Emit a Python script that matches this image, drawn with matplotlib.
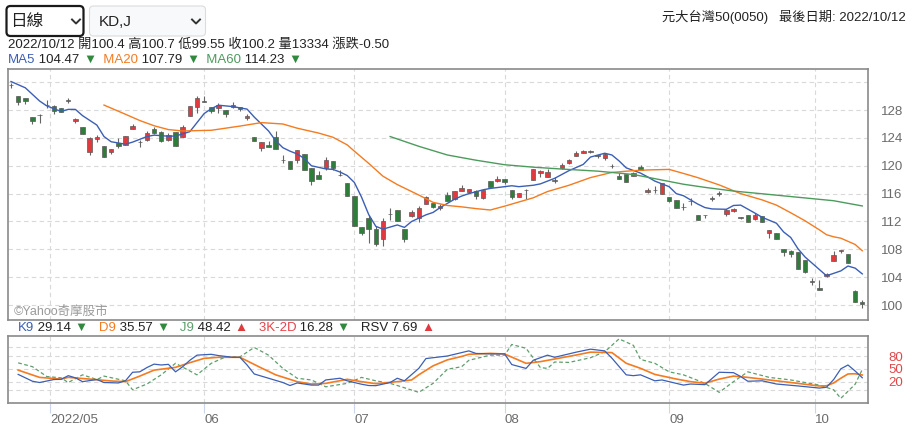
import matplotlib
matplotlib.use("Agg")
import matplotlib.pyplot as plt
import numpy as np
from matplotlib.patches import FancyBboxPatch
from matplotlib.lines import Line2D
from matplotlib.transforms import IdentityTransform

plt.rcParams["font.family"] = ["Liberation Sans", "Noto Sans CJK TC", "DejaVu Sans"]

# ---- daily candles, 2022/04/22 .. 2022/10/12 (trading-day index) ----
opens = [131.6, 130.0, 129.7, 127.0, 127.3, 128.7, 128.6, 128.35, 129.35, 126.4,
         125.55, 122.0, 123.8, 122.9, 122.05, 123.3, 123.0, 125.25, 123.35, 123.65,
         125.25, 124.9, 123.65, 124.9, 124.15, 127.2, 128.4, 129.2, 128.4, 128.3,
         128.0, 128.4, 128.4, 126.9, 124.1, 122.5, 122.95, 124.1, 120.85, 120.75,
         120.85, 121.7, 119.75, 118.65, 119.7, 120.7, 118.65, 117.55, 115.65, 111.15,
         112.45, 110.9, 109.5, 113.05, 113.65, 110.9, 112.8, 112.45, 114.45, 114.65,
         113.9, 115.75, 115.3, 116.4, 116.25, 116.4, 115.4, 117.75, 117.85, 118.05,
         116.5, 115.55, 116.45, 117.9, 118.9, 118.35, 117.85, 119.7, 120.45, 121.35,
         121.9, 122.05, 121.45, 121.15, 119.95, 118.55, 118.8, 118.5, 119.85, 116.2,
         116.5, 115.9, 115.45, 115.05, 114.05, 114.9, 113.0, 112.95, 115.3, 116.0,
         113.05, 113.45, 112.55, 112.9, 112.4, 112.75, 110.3, 110.3, 108.0, 107.8,
         107.55, 106.45, 103.35, 102.4, 104.15, 106.35, 107.75, 107.3, 102.0, 100.4]
highs = [131.9, 130.0, 129.75, 127.0, 127.4, 129.45, 128.7, 128.35, 129.8, 126.9,
         125.55, 124.2, 124.4, 122.9, 122.35, 123.95, 124.3, 125.95, 123.7, 125.0,
         125.5, 124.95, 124.65, 124.9, 125.85, 128.6, 130.0, 130.0, 128.4, 128.95,
         128.0, 129.1, 128.5, 127.45, 124.15, 123.4, 123.5, 125.05, 121.55, 120.75,
         122.2, 121.7, 119.75, 119.25, 121.3, 120.75, 119.4, 117.55, 115.65, 111.15,
         112.9, 111.35, 112.45, 113.9, 113.65, 110.9, 113.65, 114.2, 115.65, 114.7,
         114.5, 116.25, 116.35, 117.25, 116.7, 116.45, 116.55, 117.75, 118.5, 118.05,
         116.5, 116.15, 116.6, 119.5, 119.4, 119.55, 118.35, 120.35, 120.95, 122.15,
         122.2, 122.25, 121.5, 121.9, 120.25, 118.95, 118.8, 119.15, 120.1, 116.85,
         117.1, 117.55, 115.45, 115.05, 114.7, 115.4, 113.0, 112.95, 115.65, 116.35,
         113.75, 113.9, 112.7, 112.9, 113.15, 112.75, 110.75, 110.4, 108.0, 107.9,
         107.55, 106.45, 103.85, 103.6, 104.65, 107.8, 107.9, 107.3, 102.1, 100.7]
lows = [131.1, 128.8, 128.9, 126.0, 126.1, 128.25, 127.5, 127.7, 128.95, 126.1,
        124.5, 121.55, 123.45, 121.25, 121.65, 122.6, 123.0, 125.25, 122.75, 123.6,
        124.55, 123.45, 123.6, 122.8, 124.1, 127.15, 127.65, 129.1, 127.55, 127.55,
        126.95, 128.3, 127.85, 126.55, 123.5, 122.1, 122.7, 122.35, 120.45, 119.55,
        120.45, 119.45, 117.25, 118.05, 119.4, 119.4, 118.6, 115.65, 111.3, 110.05,
        108.95, 108.5, 108.55, 112.2, 112.1, 109.1, 112.7, 111.95, 114.45, 114.0,
        113.65, 115.0, 115.1, 116.4, 116.1, 115.3, 115.2, 116.9, 117.7, 117.35,
        115.3, 115.55, 115.3, 117.9, 118.4, 118.35, 117.55, 119.6, 120.25, 121.35,
        121.85, 121.85, 121.05, 120.9, 119.65, 118.15, 117.7, 118.5, 119.4, 116.05,
        116.15, 115.9, 114.85, 113.9, 113.65, 114.35, 112.15, 112.45, 115.0, 115.7,
        112.8, 113.3, 112.4, 111.95, 112.2, 111.9, 109.6, 109.45, 107.1, 106.95,
        105.15, 104.65, 102.85, 102.1, 104.05, 106.35, 107.5, 106.05, 100.45, 99.55]
closes = [131.6, 129.2, 129.25, 126.5, 127.3, 128.7, 127.9, 127.75, 129.35, 126.75,
          124.5, 123.95, 124.1, 121.25, 122.35, 122.85, 124.3, 125.7, 123.35, 124.65,
          124.65, 123.5, 124.4, 122.8, 125.5, 128.6, 129.8, 129.2, 127.8, 128.7,
          127.4, 128.8, 128.15, 127.15, 123.5, 123.35, 122.7, 122.45, 120.85, 119.55,
          122.2, 119.45, 117.75, 118.05, 120.9, 119.7, 118.65, 115.65, 111.35, 110.3,
          110.85, 108.7, 112.05, 113.05, 112.1, 109.5, 113.3, 113.9, 115.45, 114.15,
          114.2, 115.0, 116.35, 116.8, 116.6, 115.65, 116.5, 116.9, 118.1, 117.6,
          115.45, 116.15, 116.45, 119.5, 119.25, 119.05, 117.85, 120.1, 120.8, 121.85,
          122.1, 122.05, 121.45, 121.65, 119.95, 118.15, 117.7, 119.0, 119.4, 116.5,
          116.5, 117.55, 115.0, 113.9, 114.05, 114.9, 112.15, 112.95, 115.3, 116.0,
          113.6, 113.75, 112.55, 111.95, 112.95, 111.9, 110.75, 109.5, 107.55, 107.4,
          105.15, 104.8, 103.35, 102.1, 104.45, 107.15, 107.85, 106.05, 100.45, 100.2]

# moving averages: (trading-day index, value)
ma5 = [(0, 132.1), (2, 131.2), (4, 129.3), (5, 128.6), (7, 127.8), (8, 128.1),
       (9, 128.1), (10, 127.2), (12, 125.85), (13, 124.2), (14, 123.45), (16, 123.1),
       (17, 123.4), (19, 124.2), (20, 124.4), (22, 124.25), (23, 124.27), (25, 124.9),
       (26, 126.2), (27, 127.5), (28, 128.2), (29, 128.7), (31, 128.5), (33, 128.14),
       (34, 127.0), (36, 125.0), (37, 123.6), (38, 122.6), (39, 122.1), (40, 121.7),
       (41, 121.05), (42, 120.0), (44, 119.55), (45, 119.48), (46, 119.1), (47, 118.6),
       (48, 117.6), (49, 115.5), (50, 113.0), (51, 111.3), (52, 110.9), (53, 111.2),
       (54, 111.5), (55, 111.15), (56, 112.0), (58, 112.95), (59, 113.3), (60, 114.0),
       (62, 115.2), (63, 115.65), (64, 116.0), (66, 116.55), (67, 116.75), (69, 117.0),
       (70, 117.13), (71, 117.0), (73, 117.2), (74, 117.4), (76, 118.2), (78, 119.3),
       (80, 120.2), (81, 121.25), (83, 121.8), (84, 121.55), (85, 120.7), (86, 119.7),
       (88, 118.95), (89, 118.4), (90, 117.8), (92, 117.0), (93, 116.0), (94, 115.7),
       (96, 114.5), (97, 114.0), (98, 113.8), (100, 113.75), (101, 114.3), (102, 114.35),
       (104, 113.2), (105, 112.6), (107, 111.75), (108, 110.5), (109, 109.7), (110, 108.1),
       (111, 106.9), (113, 105.1), (114, 104.2), (116, 104.9), (117, 105.6), (118, 105.3),
       (119, 104.47)]
ma20 = [(13, 128.72), (16, 127.4), (18, 126.5), (20, 125.75), (22, 125.2), (24, 125.0),
        (28, 125.1), (32, 125.7), (35, 126.2), (38, 126.0), (40, 125.4), (43, 124.7),
        (45, 124.1), (47, 123.0), (48, 122.1), (50, 120.35), (52, 118.5), (54, 117.3),
        (56, 116.3), (57, 115.8), (59, 114.75), (61, 114.3), (63, 114.1), (65, 113.85),
        (67, 113.65), (69, 114.2), (71, 114.8), (73, 115.4), (75, 116.3), (78, 117.2),
        (81, 118.3), (84, 119.05), (87, 119.3), (89, 119.4), (92, 119.48), (94, 118.9),
        (96, 118.3), (99, 117.25), (102, 116.0), (105, 115.1), (107, 114.35), (109, 113.25),
        (111, 112.1), (113, 110.8), (114, 110.1), (115, 109.8), (116, 109.6), (118, 108.7),
        (119, 107.79)]
ma60 = [(53, 124.2), (57, 122.8), (61, 121.55), (65, 120.8), (69, 120.15), (73, 119.8),
        (77, 119.53), (82, 119.23), (87, 118.75), (91, 117.95), (94, 117.35), (97, 116.9),
        (101, 116.37), (106, 115.88), (110, 115.48), (115, 114.98), (119, 114.23)]

# KD panel
k9 = [(1, 37), (3, 21), (4, 18), (6, 25), (7, 25.5), (8, 34), (9, 29), (10, 20),
      (12, 25), (13, 18), (15, 17), (16, 22), (17, 42), (18, 43), (19, 53), (20, 61),
      (21, 59), (22, 60.5), (23, 43), (24, 55), (25, 70), (26, 82), (28, 84), (29, 81),
      (31, 77), (32, 77), (33, 59), (34, 38), (36, 28), (38, 18), (39, 11), (40, 17),
      (42, 12), (43, 12), (44, 24), (46, 28), (47, 22), (49, 14), (50, 11), (51, 10.6),
      (53, 18), (54, 28), (55, 22), (57, 51), (58, 74), (61, 80), (63, 88), (64, 92),
      (65, 86), (67, 85), (69, 85), (70, 60), (72, 51), (73, 70), (75, 82), (76, 77),
      (79, 89), (81, 96), (83, 92), (84, 75), (86, 36), (87, 34), (88, 36), (90, 22),
      (91, 24), (94, 12), (95, 14.5), (97, 13), (99, 42), (101, 41), (102, 32), (103, 21),
      (105, 22), (107, 14.5), (110, 10), (113, 5), (114, 7), (115, 25), (116, 50),
      (117, 59), (118, 45), (119, 29.14)]
d9 = [(1, 47), (4, 30), (7, 26), (8, 30), (11, 26), (14, 21.6), (16, 20), (18, 33),
      (20, 47), (23, 53.5), (25, 64.4), (27, 74.5), (29, 77), (32, 77), (35, 52),
      (37, 36), (40, 20), (42, 14.5), (44, 16), (47, 25.5), (49, 20), (51, 15.3),
      (54, 20), (56, 24), (57, 36), (59, 57), (61, 71), (63, 79), (64, 84), (67, 86.2),
      (69, 84.7), (72, 62.9), (74, 66.8), (76, 73), (79, 82.3), (81, 89), (84, 88),
      (86, 63), (88, 51.2), (90, 37), (93, 26.2), (95, 20), (97, 16.5), (99, 26),
      (101, 33), (103, 30), (106, 24), (110, 16), (113, 9.9), (114, 10.3), (115, 17),
      (116, 28), (117, 38), (118, 38.5), (119, 35.57)]
j9 = [(1, 64), (3, 55), (5, 32), (7, 29), (8, 18), (10, 36), (12, 25), (13, 33),
      (16, 22), (17, 1), (19, 14.5), (21, 36), (23, 63), (26, 36), (28, 63), (30, 78),
      (32, 78), (34, 100), (36, 82), (38, 51), (40, 28), (42, 24), (44, 8), (47, 16),
      (49, 30), (51, 22), (53, 16), (54, 11), (57, -5), (59, 16), (61, 49), (63, 55),
      (64, 70), (67, 82), (69, 82), (70, 107), (72, 98), (74, 53), (75, 51), (76, 66),
      (78, 65), (81, 76), (83, 90), (85, 120), (87, 105), (88, 72), (90, 63), (92, 43),
      (94, 36), (96, 23), (97, 16), (99, -5), (101, 20), (103, 43), (106, 30), (109, 24),
      (113, 12), (115, 1), (116, -19), (118, 14), (119, 48.42)]

month_pos = [5.5, 27, 48, 69, 92, 112.33]
month_labels = ["2022/05", "06", "07", "08", "09", "10"]
price_ticks = [100, 104, 108, 112, 116, 120, 124, 128, 132]
kd_ticks = [0, 20, 50, 80, 100]

RED, GREEN, GRAY = "#e03a3e", "#2f7d3b", "#6a6a6a"
BLUE, ORANGE, MGREEN = "#3b5fb5", "#f47b20", "#4d9b5c"
INK = "#222222"
FS = 9.5
W, H = 917, 436


def fx(x):
    return x / W


def fy(y):
    return 1 - y / H


fig = plt.figure(figsize=(W / 100, H / 100), dpi=100)
ax = fig.add_axes([fx(8), fy(320), fx(868) - fx(8), fy(69) - fy(320)])
kd = fig.add_axes([fx(8), fy(403), fx(868) - fx(8), fy(335.7) - fy(403)])
xlim = (-0.42, 119.8)

# candles
o, h, l, c = map(np.asarray, (opens, highs, lows, closes))
idx = np.arange(len(o))
cols = np.where(c > o, RED, np.where(c < o, GREEN, GRAY))
ax.vlines(idx, l, h, color="#666666", lw=0.8, zorder=2)
ax.bar(idx, np.maximum(np.abs(c - o), 0.05), bottom=np.minimum(o, c), width=0.62,
       color=cols, edgecolor="#5a5a5a", linewidth=0.5, zorder=3)

for series, col in ((ma5, BLUE), (ma20, ORANGE), (ma60, MGREEN)):
    xs, ys = zip(*series)
    ax.plot(xs, ys, color=col, lw=1.0, zorder=4)

ax.set_xlim(*xlim)
ax.set_ylim(97.85, 133.9)
ax.set_yticks(price_ticks, [str(t) if t < 132 else "" for t in price_ticks])
ax.set_xticks(month_pos, [""] * len(month_pos))
ax.yaxis.tick_right()
ax.tick_params(axis="y", length=0, pad=25, labelsize=FS, labelcolor="#6b6b6b")
ax.tick_params(axis="x", length=0)
for t in ax.get_yticklabels():
    t.set_horizontalalignment("right")
ax.grid(True, ls=(0, (4, 3)), color="#d9d9d9", lw=0.8)
ax.set_axisbelow(True)

# KD panel
for series, col, ls, lw in ((j9, "#5e9e6c", (0, (3, 2)), 0.9),
                            (d9, ORANGE, "-", 1.2), (k9, BLUE, "-", 0.9)):
    xs, ys = zip(*series)
    kd.plot(xs, ys, color=col, lw=lw, ls=ls)
kd.set_xlim(*xlim)
kd.set_ylim(-29.9, 127.5)
kd.set_yticks(kd_ticks, [str(t) if 0 < t < 100 else "" for t in kd_ticks])
kd.yaxis.tick_right()
kd.tick_params(axis="y", length=0, pad=25, labelsize=FS, labelcolor="#e0474c")
for t in kd.get_yticklabels():
    t.set_horizontalalignment("right")
kd.set_xticks(month_pos, month_labels)
kd.tick_params(axis="x", length=7.2, width=0.8, color="#ccd6eb", pad=0.5,
               labelsize=FS, labelcolor="#6b6b6b")
for t in kd.get_xticklabels():
    t.set_horizontalalignment("left")
kd.grid(True, ls=(0, (4, 3)), color="#d9d9d9", lw=0.8)
kd.set_axisbelow(True)

for a in (ax, kd):
    for s in a.spines.values():
        s.set_color("#8a8a8a")
        s.set_linewidth(1.2)

# header widgets and texts
px = IdentityTransform()
fig.add_artist(FancyBboxPatch((6.5, H - 36), 77, 30, boxstyle="round,pad=0,rounding_size=4",
                              transform=px, fc="white", ec="#1a1a1a", lw=1.6))
fig.add_artist(FancyBboxPatch((89.5, H - 36), 116, 30, boxstyle="round,pad=0,rounding_size=4",
                              transform=px, fc="#f8f9fa", ec="#dcdcdc", lw=0.8))
for x0 in (72, 192):
    fig.add_artist(Line2D([x0, x0 + 4, x0 + 8], [H - 19.5, H - 23.5, H - 19.5],
                          transform=px, color="#333333", lw=1.4))
fig.text(10, H - 21.5, "日線", transform=px, fontsize=12, va="center", color=INK)
fig.text(99, H - 21.5, "KD,J", transform=px, fontsize=11, va="center", color=INK)
fig.text(906, H - 17, "元大台灣50(0050)   最後日期: 2022/10/12", transform=px,
         fontsize=FS, va="center", ha="right", color=INK)
fig.text(8, H - 45, "2022/10/12 開100.4 高100.7 低99.55 收100.2 量13334 漲跌-0.50",
         transform=px, fontsize=FS, va="center", color=INK)
fig.text(14, H - 312, "©Yahoo奇摩股市", transform=px, fontsize=9, va="center",
         color="#9a9a9a")

renderer = fig.canvas.get_renderer()


def seq_text(x, y, parts):
    for s, col in parts:
        t = fig.text(x, H - y, s, transform=px, fontsize=FS, va="center", color=col)
        x += t.get_window_extent(renderer).width


UP, DN = ("▲", RED), ("▼", "#2f8a3e")
seq_text(8, 60, [("MA5", BLUE), (" 104.47 ", INK), DN, ("  MA20", ORANGE),
                 (" 107.79 ", INK), DN, ("  MA60", MGREEN), (" 114.23 ", INK), DN])
seq_text(18, 328, [("K9", BLUE), (" 29.14 ", INK), DN, ("   D9", ORANGE),
                   (" 35.57 ", INK), DN, ("   J9", "#5e9e6c"), (" 48.42 ", INK), UP,
                   ("   3K-2D", "#e8414b"), (" 16.28 ", INK), DN,
                   ("   RSV", INK), (" 7.69 ", INK), UP])

fig.savefig("out.png", dpi=100)
